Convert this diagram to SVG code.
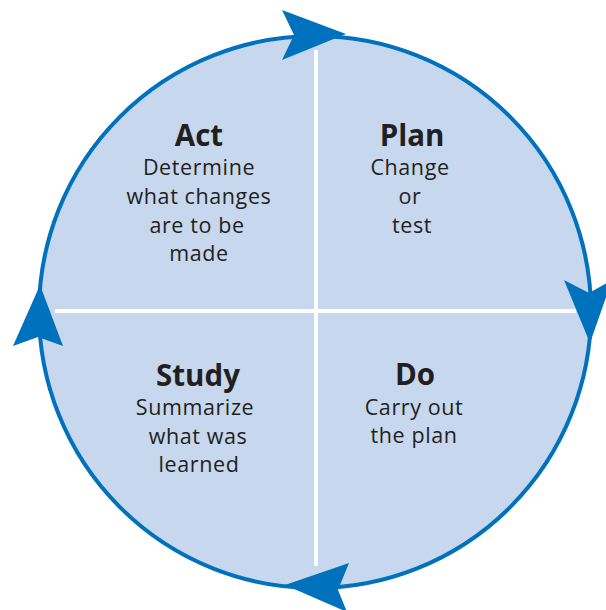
<svg xmlns="http://www.w3.org/2000/svg" width="606" height="610" viewBox="0 0 606 610">
<style>
.t{font-family:"Open Sans","Noto Sans",sans-serif;fill:#231f20;text-anchor:middle}
.h{font-size:29.5px;font-weight:bold}
.b{font-size:21.5px;letter-spacing:0.6px}
.arr{fill:#0071bc}
</style>
<rect width="606" height="610" fill="#ffffff"/>
<g id="cycle">
<circle cx="315" cy="312" r="276" fill="#c6d7ee" stroke="#0071bc" stroke-width="4"/>
<line x1="316" y1="50" x2="316" y2="566" stroke="#ffffff" stroke-width="4"/>
<line x1="55" y1="311" x2="576" y2="311" stroke="#ffffff" stroke-width="4"/>
</g>
<g id="connectors">
<polygon class="arr" points="282,10 346,34 282,60 294,35"/>
<polygon class="arr" points="564,280 589,293 612,280 590,343"/>
<polygon class="arr" points="349,563 338,590 347,612 285,585"/>
<polygon class="arr" points="40,285 63,346 38,337 13,346"/>
</g>
<g id="act">
<text class="t h" x="199" y="146">Act</text>
<text class="t b" x="199" y="175">Determine</text>
<text class="t b" x="199" y="204">what changes</text>
<text class="t b" x="197" y="233">are to be</text>
<text class="t b" x="199" y="261">made</text>
</g>
<g id="plan">
<text class="t h" x="412" y="146">Plan</text>
<text class="t b" x="410" y="175">Change</text>
<text class="t b" x="410" y="204">or</text>
<text class="t b" x="412" y="233">test</text>
</g>
<g id="study">
<text class="t h" x="198" y="386">Study</text>
<text class="t b" x="195" y="415">Summarize</text>
<text class="t b" x="198" y="444">what was</text>
<text class="t b" x="199" y="472">learned</text>
</g>
<g id="do">
<text class="t h" x="415" y="385">Do</text>
<text class="t b" x="414" y="415">Carry out</text>
<text class="t b" x="414" y="443">the plan</text>
</g>
</svg>
